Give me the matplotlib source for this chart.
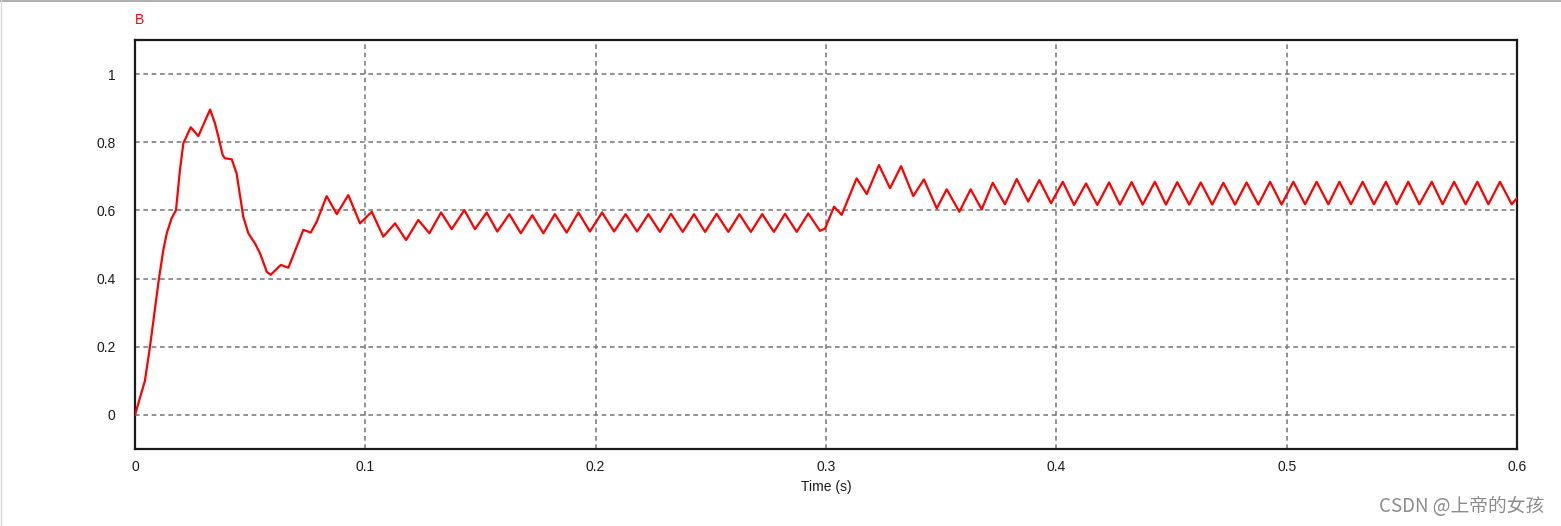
import numpy as np
import matplotlib.pyplot as plt
from matplotlib.lines import Line2D

# start-up transient (time s, value)
t_start = [0.0, 0.0043, 0.0065, 0.0104, 0.0123, 0.0138, 0.0159, 0.0178, 0.0195, 0.021,
           0.0242, 0.0275, 0.0326, 0.0347, 0.0362, 0.0381, 0.039, 0.042, 0.0441, 0.047,
           0.0492, 0.0521, 0.0543, 0.0572, 0.0589, 0.0633, 0.0666, 0.0731, 0.0763, 0.0789,
           0.0832, 0.0876, 0.0926, 0.0977]
v_start = [0.0, 0.10, 0.20, 0.40, 0.484, 0.533, 0.577, 0.601, 0.718, 0.797,
           0.844, 0.818, 0.896, 0.856, 0.816, 0.762, 0.753, 0.750, 0.709, 0.582,
           0.533, 0.503, 0.474, 0.420, 0.411, 0.440, 0.432, 0.543, 0.535, 0.567,
           0.642, 0.589, 0.645, 0.562]

# first steady ripple 0.1 - 0.3 s (peaks and troughs)
t_ripple1 = [0.1028, 0.1078, 0.1129, 0.1177, 0.1230, 0.1278, 0.1329, 0.1375, 0.1430, 0.1476,
             0.1527, 0.1573, 0.1625, 0.1675, 0.1725, 0.1773, 0.1823, 0.1874, 0.1925, 0.1975,
             0.2028, 0.2080, 0.2130, 0.2180, 0.2229, 0.2279, 0.2327, 0.2378, 0.2427, 0.2475,
             0.2525, 0.2576, 0.2624, 0.2674, 0.2723, 0.2774, 0.2822, 0.2873, 0.2923, 0.2974]
v_ripple1 = [0.596, 0.523, 0.562, 0.513, 0.572, 0.533, 0.594, 0.545, 0.601, 0.545,
             0.594, 0.538, 0.589, 0.533, 0.586, 0.533, 0.589, 0.535, 0.594, 0.538,
             0.594, 0.538, 0.589, 0.538, 0.589, 0.537, 0.590, 0.537, 0.589, 0.537,
             0.590, 0.537, 0.589, 0.537, 0.589, 0.537, 0.590, 0.537, 0.591, 0.540]

# load step around 0.3 s
t_step = [0.2996, 0.3035, 0.3068, 0.3133, 0.3177, 0.3230, 0.3278, 0.3326, 0.3379, 0.3425,
          0.3481, 0.3524, 0.3579, 0.3628, 0.3676, 0.3724, 0.3777, 0.3828, 0.3878, 0.3926,
          0.3977]
v_step = [0.547, 0.611, 0.587, 0.694, 0.648, 0.733, 0.665, 0.730, 0.642, 0.691,
          0.606, 0.662, 0.596, 0.662, 0.603, 0.681, 0.618, 0.692, 0.626, 0.689,
          0.621]

# second steady ripple 0.4 - 0.6 s
t_ripple2 = [0.4028, 0.4077, 0.4129, 0.4178, 0.4229, 0.4276, 0.4327, 0.4375, 0.4428, 0.4476,
             0.4525, 0.4577, 0.4627, 0.4677, 0.4725, 0.4776, 0.4826, 0.4877, 0.4928, 0.4978,
             0.5029, 0.5080, 0.5130, 0.5181, 0.5229, 0.5279, 0.5330, 0.5379, 0.5431, 0.5478,
             0.5528, 0.5576, 0.5630, 0.5677, 0.5727, 0.5777, 0.5828, 0.5876, 0.5926, 0.5977,
             0.6]
v_ripple2 = [0.684, 0.616, 0.679, 0.616, 0.682, 0.617, 0.683, 0.617, 0.684, 0.617,
             0.683, 0.617, 0.682, 0.617, 0.681, 0.617, 0.682, 0.617, 0.684, 0.617,
             0.684, 0.618, 0.684, 0.618, 0.684, 0.618, 0.684, 0.618, 0.684, 0.618,
             0.684, 0.618, 0.684, 0.618, 0.684, 0.618, 0.684, 0.618, 0.684, 0.618,
             0.636]

x_ticks = [0, 0.1, 0.2, 0.3, 0.4, 0.5, 0.6]
x_labels = ["0", "0.1", "0.2", "0.3", "0.4", "0.5", "0.6"]
y_ticks = [0, 0.2, 0.4, 0.6, 0.8, 1.0]
y_labels = ["0", "0.2", "0.4", "0.6", "0.8", "1"]

t = t_start + t_ripple1 + t_step + t_ripple2
v = v_start + v_ripple1 + v_step + v_ripple2

plt.rcParams["font.family"] = ["Liberation Sans", "DejaVu Sans"]

fig = plt.figure(figsize=(15.61, 5.26), dpi=100)
ax = fig.add_axes([135 / 1561, 1 - 449 / 526, (1517 - 135) / 1561, (449 - 40) / 526])

ax.plot(t, v, color="#ff0000", linewidth=1.6, zorder=3)

ax.set_xlim(0, 0.6)
ax.set_ylim(-0.1, 1.1)
ax.set_xticks(x_ticks)
ax.set_xticklabels(x_labels)
ax.set_yticks(y_ticks)
ax.set_yticklabels(y_labels)
ax.tick_params(length=0, labelsize=10, colors="#1a1a1a")
ax.tick_params(axis="x", pad=8)
ax.tick_params(axis="y", pad=14)

for x in x_ticks[1:]:
    ax.axvline(x, color="#7f7f7f", linewidth=1.2, linestyle=(0, (2.8, 2.2)), zorder=2)
for y in y_ticks:
    ax.axhline(y, color="#7f7f7f", linewidth=1.2, linestyle=(0, (2.8, 2.2)), zorder=2)

for s in ax.spines.values():
    s.set_color("#1a1a1a")
    s.set_linewidth(1.6)

ax.set_xlabel("Time (s)", fontsize=10, color="#1a1a1a", labelpad=4)
fig.text(135 / 1561, 1 - 20 / 526, "B", color="#ff0000", fontsize=10, va="center")

fig.text(1544 / 1561, 1 - 506 / 526, "CSDN @上帝的女孩", color="#8c8c8c", fontsize=13.5,
         ha="right", va="center", family=["Noto Sans CJK SC", "DejaVu Sans"])

# thin frame of the screenshot
fig.add_artist(Line2D([0, 1], [0.999, 0.999], transform=fig.transFigure, color="#b0b0b0", linewidth=1.5))
fig.add_artist(Line2D([0.0005, 0.0005], [0, 1], transform=fig.transFigure, color="#d8d8d8", linewidth=1))

fig.savefig("out.png", dpi=100)
